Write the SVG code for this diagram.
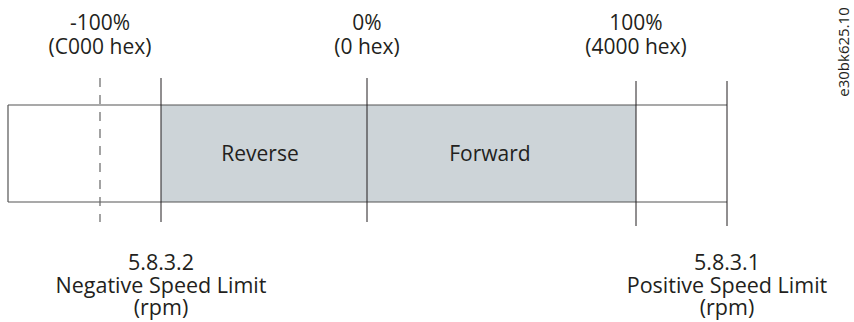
<svg xmlns="http://www.w3.org/2000/svg" width="854" height="322" viewBox="0 0 854 322">
<style>
text{font-family:"Open Sans","Noto Sans","Liberation Sans",sans-serif;fill:#231f20;font-size:21px;text-anchor:middle}
.lim{font-size:21.5px}
.tick{stroke:#231f20;stroke-width:1;fill:none}
.edge{stroke:#555;stroke-width:1.2;fill:none}
.dash{stroke:#666;stroke-width:1.2;stroke-dasharray:9 8;fill:none}
.code{font-size:15px}
</style>
<rect width="854" height="322" fill="#fff"/>
<g id="band">
<rect x="161" y="105" width="475" height="97" fill="#cdd4d8"/>
<path class="edge" d="M8 105H727M8 202H727M8 105V202"/>
</g>
<g id="connectors">
<line class="tick" x1="161" y1="78" x2="161" y2="222"/>
<line class="tick" x1="367" y1="78" x2="367" y2="222"/>
<line class="tick" x1="636" y1="81" x2="636" y2="226"/>
<line class="tick" x1="727" y1="81" x2="727" y2="226"/>
<line class="dash" x1="100" y1="78" x2="100" y2="222"/>
</g>
<g id="label-neg100"><text x="100" y="30">-100%</text><text x="100" y="54">(C000 hex)</text></g>
<g id="label-zero"><text x="367" y="30">0%</text><text x="367" y="54">(0 hex)</text></g>
<g id="label-pos100"><text x="636" y="30">100%</text><text x="636" y="54">(4000 hex)</text></g>
<g id="reverse"><text x="260" y="161">Reverse</text></g>
<g id="forward"><text x="490" y="161">Forward</text></g>
<g id="neg-limit"><text class="lim" x="161" y="270">5.8.3.2</text><text class="lim" x="161" y="293">Negative Speed Limit</text><text class="lim" x="161" y="315">(rpm)</text></g>
<g id="pos-limit"><text class="lim" x="727" y="270">5.8.3.1</text><text class="lim" x="727" y="293">Positive Speed Limit</text><text class="lim" x="727" y="315">(rpm)</text></g>
<g id="code"><text class="code" transform="translate(849 52) rotate(-90)">e30bk625.10</text></g>
</svg>
